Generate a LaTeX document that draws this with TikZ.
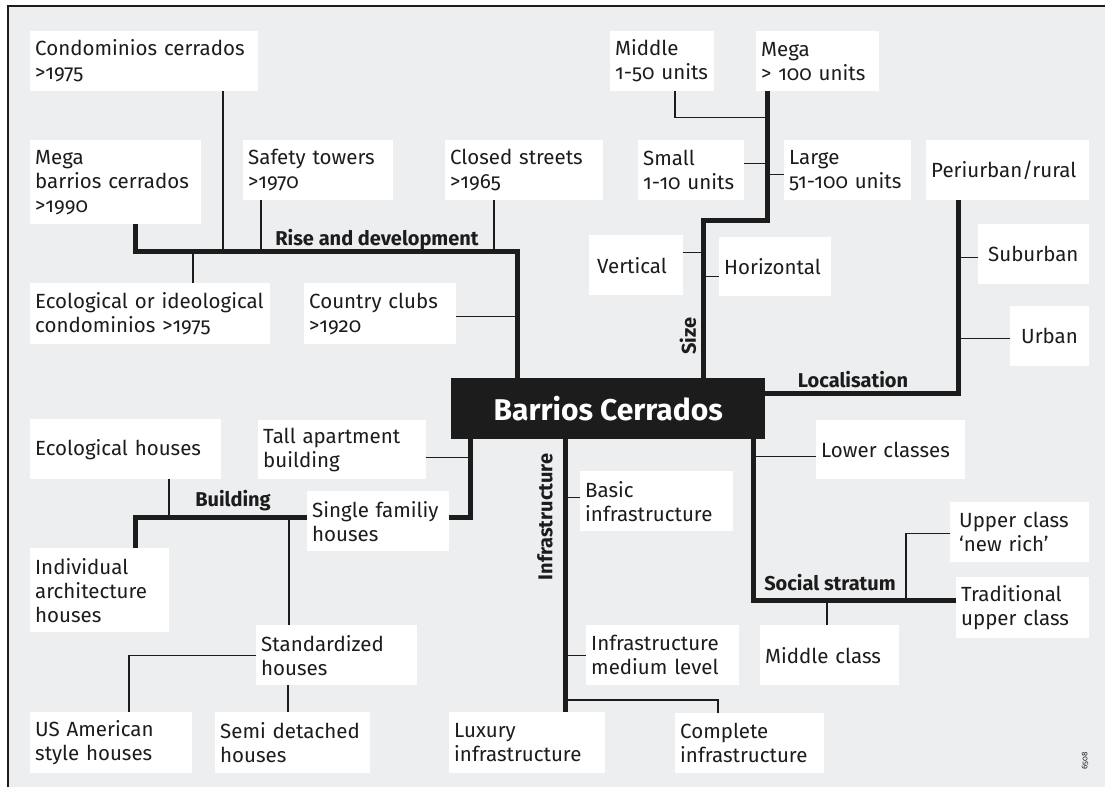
\documentclass[tikz,border=0pt]{standalone}
\usepackage{fontspec}
\setmainfont{Fira Sans}[Numbers={OldStyle,Proportional}]
\usepackage{xcolor}
\usepackage{tikz}
\usetikzlibrary{calc}

\definecolor{panelgray}{RGB}{237,238,240}
\definecolor{inkdark}{RGB}{28,28,28}
\newcommand{\lblfont}{\fontsize{20.5}{24}\selectfont}
\newcommand{\headfont}{\fontsize{20}{22}\selectfont\bfseries}

\tikzset{
  box/.style={fill=white, anchor=north west, inner xsep=5pt, inner ysep=0pt, align=left, font=\lblfont, text=inkdark},
  trunk/.style={draw=inkdark, line width=5pt},
  twig/.style={draw=inkdark, line width=1.2pt},
  branchlbl/.style={font=\headfont, inner sep=0pt, text=inkdark}
}

\begin{document}
\begin{tikzpicture}[x=1pt,y=1pt,yscale=-1]
\useasboundingbox (0,0) rectangle (1105,787);

%Panel
\fill[white] (0,0) rectangle (1105,787);
\fill[panelgray] (8,6) rectangle (1105,787);
\draw[line width=2pt, inkdark] (8,787) -- (8,6) -- (1105,6);

%Centre
\node[fill=inkdark, anchor=north west, minimum width=314, minimum height=61, inner sep=0pt,
      font=\fontsize{30}{34}\selectfont\bfseries, text=white] (bc) at (451,378) {Barrios Cerrados};

%Rise and development
\node[box, text width=218, minimum height=60] (condo) at (30,31) {Condominios cerrados\\>1975};
\node[box, text width=161, minimum height=84] (megabc) at (30,140) {Mega\\barrios cerrados\\>1990};
\node[box, text width=140, minimum height=60] (safety) at (243,140) {Safety towers\\>1970};
\node[box, text width=148, minimum height=60] (closed) at (445,140) {Closed streets\\>1965};
\node[box, text width=230, minimum height=61] (ecocon) at (30,283) {Ecological or ideological\\condominios >1975};
\node[box, text width=142, minimum height=61] (country) at (304,283) {Country clubs\\>1920};

%Size
\node[box, text width=94, minimum height=60] (middle) at (610,31) {Middle\\1-50 units};
\node[box, text width=113, minimum height=60] (mega) at (756,31) {Mega\\> 100 units};
\node[box, text width=96, minimum height=60] (small) at (638,140) {Small\\1-10 units};
\node[box, text width=117, minimum height=60] (large) at (784,140) {Large\\51-100 units};
\node[box, text width=84, minimum height=60] (vertical) at (589,235) {\hspace*{3pt}Vertical};
\node[box, text width=102, minimum height=59] (horiz) at (719,237) {Horizontal};

%Localisation
\node[box, text width=153, minimum height=60] (peri) at (926,140) {Periurban/rural};
\node[box, text width=101, minimum height=60] (suburb) at (978,224) {\hspace*{5pt}Suburban};
\node[box, text width=69, minimum height=60] (urban) at (1010,306) {\hspace*{6pt}Urban};

%Building
\node[box, text width=181, minimum height=60] (ecohouse) at (30,419) {Ecological houses};
\node[box, text width=158, minimum height=59] (tall) at (258,420) {Tall apartment\\building};
\node[box, text width=132, minimum height=60] (single) at (307,491) {Single familiy\\houses};
\node[box, text width=129, minimum height=84] (indiv) at (30,548) {Individual\\architecture\\houses};
\node[box, text width=151, minimum height=60] (stand) at (256,625) {Standardized\\houses};
\node[box, text width=152, minimum height=61] (usam) at (30,712) {US American\\style houses};
\node[box, text width=145, minimum height=61] (semi) at (215,712) {Semi detached\\houses};

%Infrastructure
\node[box, text width=146, minimum height=61] (luxury) at (449,712) {Luxury\\infrastructure};
\node[box, text width=143, minimum height=60] (basic) at (580,471) {Basic\\infrastructure};
\node[box, text width=143, minimum height=60] (medium) at (586,625) {Infrastructure\\medium level};
\node[box, text width=139, minimum height=60] (complete) at (675,713) {Complete\\infrastructure};

%Social stratum
\node[box, text width=139, minimum height=59] (lower) at (816,420) {Lower classes};
\node[box, text width=129, minimum height=60] (upper) at (950,502) {\hspace*{4pt}Upper class\\\hspace*{4pt}‘new rich’};
\node[box, text width=123, minimum height=61] (trad) at (956,577) {Traditional\\upper class};
\node[box, text width=129, minimum height=60] (midcl) at (760,625) {Middle class};

%Branch labels
\node[branchlbl] (riselbl) at (377,240) {Rise and development};
\node[branchlbl, rotate=90] (sizelbl) at (688,336) {Size};
\node[branchlbl] (loclbl) at (853,380) {Localisation};
\node[branchlbl] (buildlbl) at (233,501) {Building};
\node[branchlbl, rotate=90] (infralbl) at (545,517) {Infrastructure};
\node[branchlbl] (sociallbl) at (830,583) {Social stratum};

%Rise and development lines
\draw[trunk] ($(bc.north west)+(66,0)$) -- ++(0,-127) -| ($(megabc.south west)+(105,0)$);
\draw[twig] ($(condo.south west)+(193,0)$) -- ++(0,160);
\draw[twig] ($(safety.south west)+(18,0)$) -- ++(0,51);
\draw[twig] ($(closed.south west)+(49,0)$) -- ++(0,51);
\draw[twig] ($(ecocon.north west)+(163,0)$) -- ++(0,-32);
\draw[twig] ($(country.east)+(0,3)$) -- ++(61,0);

%Size lines
\draw[trunk] ($(bc.north west)+(252,0)$) -- ++(0,-158) -| ($(mega.south west)+(11,0)$);
\draw[twig] ($(middle.south west)+(65,0)$) |- ++(92,26);
\draw[twig] ($(small.east)+(0,-7)$) -- ++(23,0);
\draw[twig] ($(large.west)+(0,4)$) -- ++(-17,0);
\draw[twig] ($(vertical.east)+(0,-13)$) -- ++(20,0);
\draw[twig] ($(horiz.west)+(0,10)$) -- ++(-16,0);

%Localisation lines
\draw[trunk] ($(bc.east)+(0,-15)$) -| ($(peri.south west)+(32,0)$);
\draw[twig] ($(suburb.west)+(0,3)$) -- ++(-20,0);
\draw[twig] ($(urban.west)+(0,2)$) -- ++(-52,0);

%Building lines
\draw[trunk] ($(bc.south west)+(19,0)$) |- ($(single.east)+(0,-4)$);
\draw[trunk] ($(single.west)+(0,-4)$) -| ($(indiv.north west)+(105,0)$);
\draw[twig] ($(tall.east)+(0,8)$) -- ++(44,0);
\draw[twig] ($(ecohouse.south west)+(139,0)$) -- ++(0,38);
\draw[twig] ($(stand.north west)+(33,0)$) -- ++(0,-108);
\draw[twig] (stand.west) -| ($(usam.north west)+(99,0)$);
\draw[twig] ($(semi.north west)+(73,0)$) -- ++(0,-27);

%Infrastructure lines
\draw[trunk] ($(bc.south west)+(114,0)$) -- ($(luxury.north west)+(116,0)$);
\draw[twig] ($(basic.west)+(0,-4)$) -- ++(-15,0);
\draw[twig] (medium.west) -- ++(-21,0);
\draw[twig] ($(complete.north west)+(43,0)$) |- ++(-153,-13);

%Social stratum lines
\draw[trunk] ($(bc.south west)+(302,0)$) |- ($(trad.west)+(0,-7)$);
\draw[twig] ($(lower.west)+(0,7)$) -- ++(-63,0);
\draw[twig] ($(upper.west)+(0,1)$) -| ++(-44,67);
\draw[twig] ($(midcl.north west)+(67,0)$) -- ++(0,-25);

% Text Node
\node[rotate=90, font=\fontsize{8}{9}\selectfont, text=inkdark, inner sep=0pt] (plateno) at (1085,761) {6508};

\end{tikzpicture}
\end{document}
